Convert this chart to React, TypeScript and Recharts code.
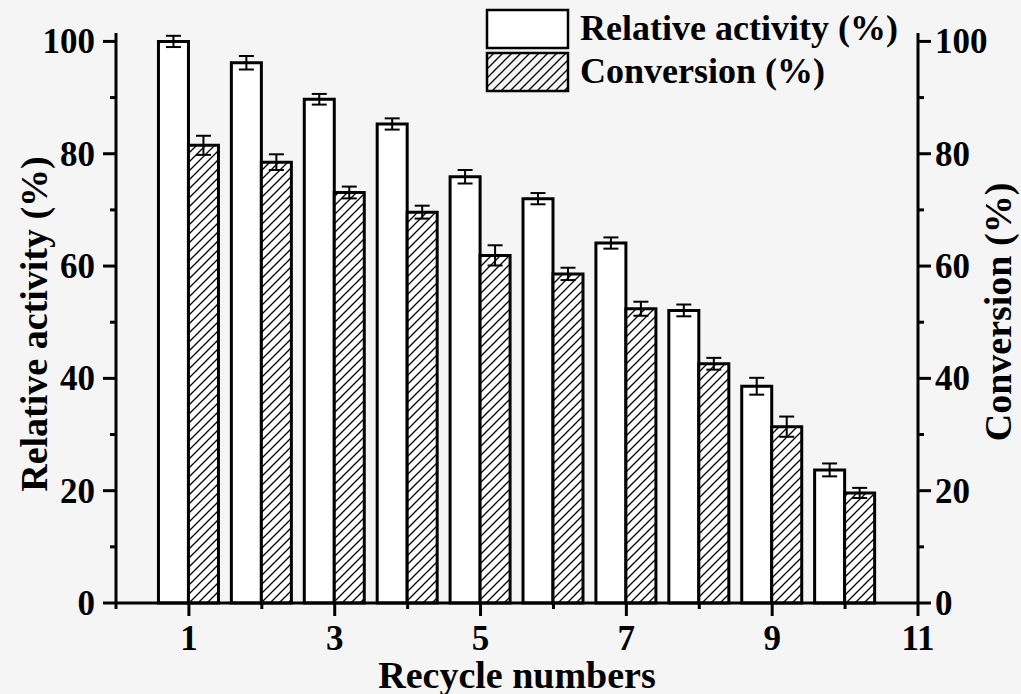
import React from 'react'
import {
  ComposedChart,
  Bar,
  ErrorBar,
  XAxis,
  YAxis
} from 'recharts'

const cycles = [1, 2, 3, 4, 5, 6, 7, 8, 9, 10]
const relativeActivity = [100, 96.2, 89.7, 85.3, 75.9, 72.0, 64.1, 52.1, 38.6, 23.7]
const relativeActivityErr = [1.0, 1.2, 0.95, 1.0, 1.2, 1.0, 1.0, 1.05, 1.5, 1.15]
const conversion = [81.5, 78.5, 73.1, 69.6, 61.9, 58.6, 52.4, 42.6, 31.4, 19.6]
const conversionErr = [1.7, 1.4, 1.05, 1.15, 1.8, 1.1, 1.25, 1.05, 1.8, 0.9]

const xTicks = [0, 1, 2, 3, 4, 5, 6, 7, 8, 9, 10, 11]
const yTicks = [0, 10, 20, 30, 40, 50, 60, 70, 80, 90, 100]

const FONT = '"Liberation Serif", "Times New Roman", serif'

const data = cycles.map((c, i) => ({
  cycle: c,
  ra: relativeActivity[i],
  raErr: relativeActivityErr[i],
  conv: conversion[i],
  convErr: conversionErr[i]
}))

// eslint-disable-next-line @typescript-eslint/no-explicit-any
const LeftTick = ({ x, y, payload }: any) => {
  const major = payload.value % 20 === 0
  return (
    <g>
      <line x1={x} y1={y} x2={x - (major ? 13 : 6)} y2={y} stroke="#000" strokeWidth={3} />
      {major && (
        <text x={x - 21} y={y + 12} textAnchor="end" fontSize={35} fontWeight="bold" fontFamily={FONT} fill="#000">
          {payload.value}
        </text>
      )}
    </g>
  )
}

// eslint-disable-next-line @typescript-eslint/no-explicit-any
const RightTick = ({ x, y, payload }: any) => {
  const major = payload.value % 20 === 0
  return (
    <g>
      <line x1={x} y1={y} x2={x + (major ? 13 : 6)} y2={y} stroke="#000" strokeWidth={3} />
      {major && (
        <text x={x + 17} y={y + 12} textAnchor="start" fontSize={35} fontWeight="bold" fontFamily={FONT} fill="#000">
          {payload.value}
        </text>
      )}
    </g>
  )
}

// eslint-disable-next-line @typescript-eslint/no-explicit-any
const BottomTick = ({ x, y, payload }: any) => {
  const major = payload.value % 2 === 1
  return (
    <g>
      <line x1={x} y1={y} x2={x} y2={y + (major ? 13 : 6)} stroke="#000" strokeWidth={3} />
      {major && (
        <text x={x} y={y + 47} textAnchor="middle" fontSize={35} fontWeight="bold" fontFamily={FONT} fill="#000">
          {payload.value}
        </text>
      )}
    </g>
  )
}

const ChartLegend = () => (
  <svg width={430} height={92} style={{ position: 'absolute', left: 485, top: 8 }}>
    <defs>
      <pattern id="hatchLegend" patternUnits="userSpaceOnUse" width={9} height={9}>
        <path d="M0,9 L9,0 M-2,2 L2,-2 M7,11 L11,7" stroke="#000" strokeWidth={1.3} />
      </pattern>
    </defs>
    <rect x={2} y={2} width={81} height={38} fill="#fff" stroke="#000" strokeWidth={2.5} />
    <rect x={2} y={45} width={81} height={38} fill="url(#hatchLegend)" stroke="#000" strokeWidth={2.5} />
    <text x={95} y={32} fontSize={36} fontWeight="bold" fontFamily={FONT} fill="#000">Relative activity (%)</text>
    <text x={95} y={75} fontSize={36} fontWeight="bold" fontFamily={FONT} fill="#000">Conversion (%)</text>
  </svg>
)

const App = () => {
  return (
    <div style={{ position: 'absolute', left: 0, top: 0, width: 1021, height: 694, background: '#f5f5f5' }}>
      <ComposedChart
        width={1021}
        height={694}
        data={data}
        margin={{ top: 33, right: 0, left: 0, bottom: 0 }}
        barGap={0}
      >
        <defs>
          <pattern id="hatch" patternUnits="userSpaceOnUse" width={9} height={9}>
            <rect width={9} height={9} fill="#fff" />
            <path d="M0,9 L9,0 M-2,2 L2,-2 M7,11 L11,7" stroke="#000" strokeWidth={1.3} />
          </pattern>
        </defs>
        <XAxis
          dataKey="cycle"
          type="number"
          domain={[0, 11]}
          ticks={xTicks}
          interval={0}
          height={91}
          tickSize={0}
          tickMargin={0}
          tickLine={false}
          axisLine={{ stroke: '#000', strokeWidth: 3 }}
          tick={<BottomTick />}
          label={({ viewBox }: any) => (
            <text
              x={viewBox.x + viewBox.width / 2}
              y={688}
              textAnchor="middle"
              fontSize={38}
              fontWeight="bold"
              fontFamily={FONT}
              fill="#000"
            >
              Recycle numbers
            </text>
          )}
        />
        <YAxis
          yAxisId="left"
          orientation="left"
          domain={[0, 101.5]}
          ticks={yTicks}
          interval={0}
          width={116}
          tickSize={0}
          tickMargin={0}
          tickLine={false}
          axisLine={{ stroke: '#000', strokeWidth: 3 }}
          tick={<LeftTick />}
          label={() => (
            <text
              x={47}
              y={324}
              transform="rotate(-90, 47, 324)"
              textAnchor="middle"
              fontSize={38}
              fontWeight="bold"
              fontFamily={FONT}
              fill="#000"
            >
              Relative activity (%)
            </text>
          )}
        />
        <YAxis
          yAxisId="right"
          orientation="right"
          domain={[0, 101.5]}
          ticks={yTicks}
          interval={0}
          width={103}
          tickSize={0}
          tickMargin={0}
          tickLine={false}
          axisLine={{ stroke: '#000', strokeWidth: 3 }}
          tick={<RightTick />}
          label={() => (
            <text
              x={1011}
              y={312}
              transform="rotate(-90, 1011, 312)"
              textAnchor="middle"
              fontSize={38}
              fontWeight="bold"
              fontFamily={FONT}
              fill="#000"
            >
              Conversion (%)
            </text>
          )}
        />
        <Bar
          yAxisId="left"
          dataKey="ra"
          name="Relative activity (%)"
          barSize={30}
          fill="#fff"
          stroke="#000"
          strokeWidth={3}
          isAnimationActive={false}
        >
          <ErrorBar dataKey="raErr" width={7.5} stroke="#000" strokeWidth={2} direction="y" />
        </Bar>
        <Bar
          yAxisId="right"
          dataKey="conv"
          name="Conversion (%)"
          barSize={30}
          fill="url(#hatch)"
          stroke="#000"
          strokeWidth={3}
          isAnimationActive={false}
        >
          <ErrorBar dataKey="convErr" width={7.5} stroke="#000" strokeWidth={2} direction="y" />
        </Bar>
      </ComposedChart>
      <ChartLegend />
    </div>
  )
}

export default App
